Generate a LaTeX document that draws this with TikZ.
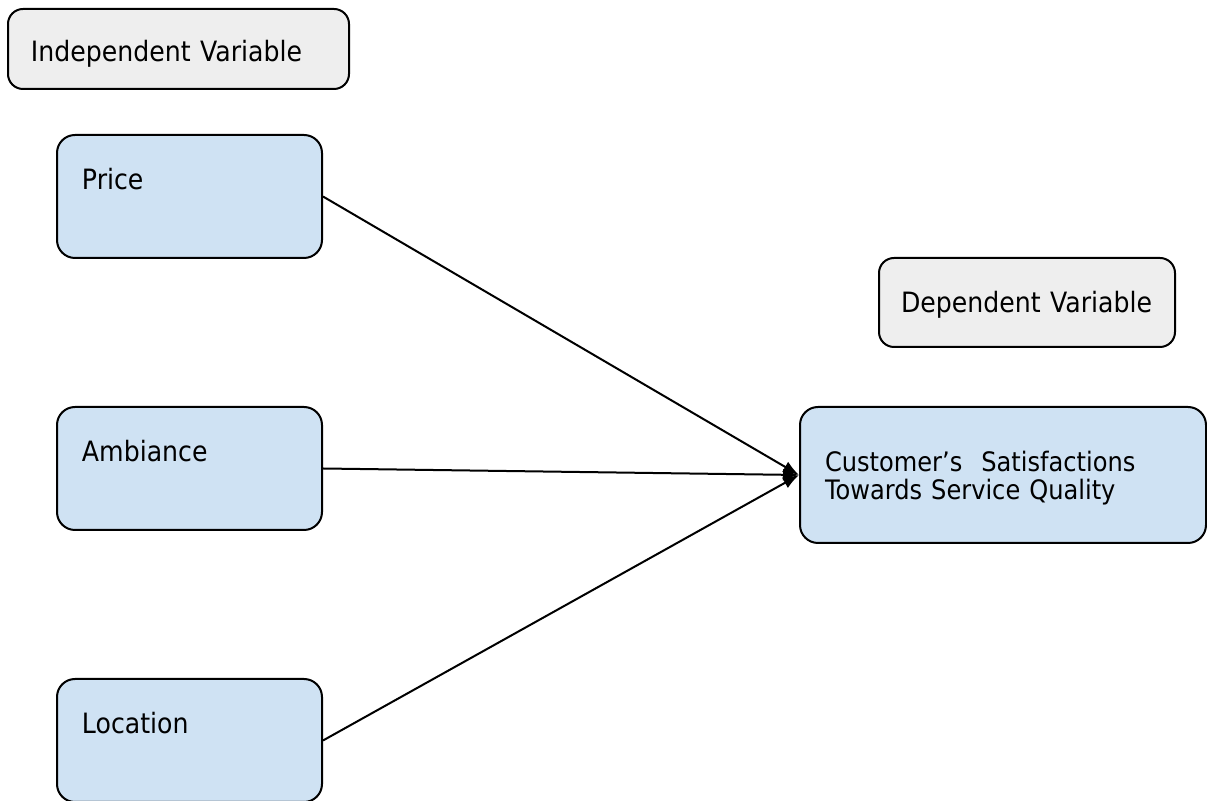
\documentclass[tikz,border=0pt]{standalone}
\usepackage{fontspec}
\setmainfont{DejaVu Sans}[FakeStretch=0.9]
\usetikzlibrary{positioning, arrows.meta}
\definecolor{boxblue}{HTML}{CFE2F3}
\definecolor{boxgray}{HTML}{EEEEEE}
\tikzset{
    >={Latex[length=8pt,width=6pt]}, % solid heads on the connectors
    varbox/.style={draw, line width=1pt, rounded corners=9pt, fill=boxblue, inner xsep=12.5pt, inner ysep=0pt, align=left, text width=107.5pt, text height=27.5pt, text depth=34pt, font=\fontsize{14}{17}\selectfont}, % the variable boxes
    headbox/.style={draw, line width=1pt, rounded corners=7.5pt, fill=boxgray, inner ysep=0pt, align=left, font=\fontsize{14}{17}\selectfont}, % the two headings
    node distance=136pt, % centre to centre of the left boxes
}
\begin{document}
\begin{tikzpicture}[x=0.5pt, y=-0.5pt]
                            \useasboundingbox (0,0) rectangle (1207,801);
                            \node[headbox, inner xsep=11.5pt, text width=147.5pt, text height=26.5pt, text depth=13.5pt] (iv) at (178.5,49) {Independent Variable};
                            \node[varbox] (price) at (189.5,196.5) {Price};
                            \node[varbox, below of=price] (amb) {Ambiance};
                            \node[varbox, below of=amb] (loc) {Location};
                            \node[headbox, inner xsep=11pt, text width=126pt, text height=27.5pt, text depth=17pt] (dv) at (1027,302.5) {Dependent Variable};
                            \node[varbox, text width=178pt, text height=32.5pt, text depth=35.5pt, font=\fontsize{13.4}{14}\selectfont] (cust) at (1003,475) {Customer’s\hspace{5pt} Satisfactions\\Towards Service Quality};
                            \draw[line width=1pt]
                            (price.east) edge[->] (cust.west)
                            (amb.east) edge[->] (cust.west)
                            (loc.east) edge[->] (cust.west);
                        \end{tikzpicture}
\end{document}
